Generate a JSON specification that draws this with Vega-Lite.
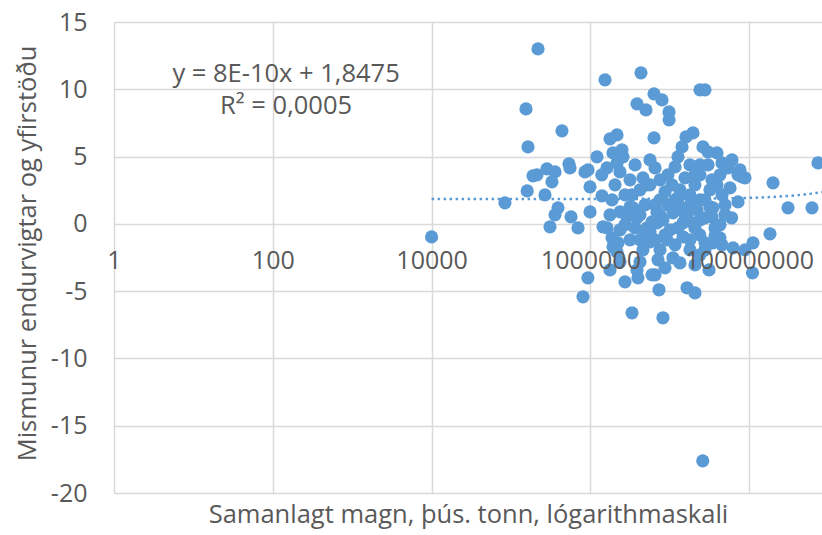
{
  "$schema": "https://vega.github.io/schema/vega-lite/v6.json",
  "width": 708,
  "height": 471,
  "autosize": {"type": "none"},
  "padding": {"left": 114, "top": 22, "right": 0, "bottom": 42},
  "background": "white",
  "view": {"stroke": null},
  "config": {
    "font": "Open Sans",
    "axis": {"labelColor": "#595959", "titleColor": "#595959", "gridColor": "#d9d9d9", "gridWidth": 1.5, "domain": false, "ticks": false, "labelFont": "Open Sans", "titleFont": "Open Sans", "titleFontWeight": "normal"}
  },
  "datasets": {
    "punktar": [
      {"magn": 10000, "mismunur": -0.97}, {"magn": 83900, "mismunur": 1.56}, {"magn": 154500, "mismunur": 8.54}, {"magn": 163700, "mismunur": 5.72},
      {"magn": 218800, "mismunur": 13.0}, {"magn": 438500, "mismunur": 6.91}, {"magn": 1528000, "mismunur": 10.7}, {"magn": 4335000, "mismunur": 11.22},
      {"magn": 23990000, "mismunur": 9.96}, {"magn": 27740000, "mismunur": 9.96}, {"magn": 3864000, "mismunur": 8.92}, {"magn": 5012000, "mismunur": 8.47},
      {"magn": 6324000, "mismunur": 9.66}, {"magn": 7980000, "mismunur": 9.21}, {"magn": 9770000, "mismunur": 8.32}, {"magn": 9800000, "mismunur": 7.73},
      {"magn": 6324000, "mismunur": 6.39}, {"magn": 2163000, "mismunur": 6.61}, {"magn": 1766000, "mismunur": 6.32}, {"magn": 19590000, "mismunur": 6.76},
      {"magn": 16000000, "mismunur": 6.46}, {"magn": 14260000, "mismunur": 5.72}, {"magn": 12680000, "mismunur": 4.98}, {"magn": 11640000, "mismunur": 4.23},
      {"magn": 1211000, "mismunur": 4.98}, {"magn": 2500000, "mismunur": 5.5}, {"magn": 2576000, "mismunur": 4.98}, {"magn": 1927000, "mismunur": 5.27},
      {"magn": 2163000, "mismunur": 4.53}, {"magn": 26180000, "mismunur": 5.72}, {"magn": 30270000, "mismunur": 5.35}, {"magn": 39260000, "mismunur": 5.27},
      {"magn": 45390000, "mismunur": 4.53}, {"magn": 60670000, "mismunur": 4.75}, {"magn": 76560000, "mismunur": 4.01}, {"magn": 81100000, "mismunur": 3.49},
      {"magn": 735000000, "mismunur": 4.53}, {"magn": 199500000, "mismunur": 3.05}, {"magn": 308300000, "mismunur": 1.19}, {"magn": 618000000, "mismunur": 1.19},
      {"magn": 182800000, "mismunur": -0.74}, {"magn": 111700000, "mismunur": -1.41}, {"magn": 72300000, "mismunur": 1.63}, {"magn": 60000000, "mismunur": 0.45},
      {"magn": 26000000, "mismunur": -17.61}, {"magn": 160000, "mismunur": 2.45}, {"magn": 267900, "mismunur": 2.15}, {"magn": 212500, "mismunur": 3.64},
      {"magn": 283800, "mismunur": 4.09}, {"magn": 358100, "mismunur": 3.86}, {"magn": 328100, "mismunur": 3.12}, {"magn": 189200, "mismunur": 3.57},
      {"magn": 537000, "mismunur": 4.46}, {"magn": 553400, "mismunur": 4.16}, {"magn": 855000, "mismunur": 3.86}, {"magn": 933000, "mismunur": 4.01},
      {"magn": 989000, "mismunur": 2.75}, {"magn": 1400000, "mismunur": 2.08}, {"magn": 1390000, "mismunur": 3.64}, {"magn": 1618000, "mismunur": 4.16},
      {"magn": 990000, "mismunur": 0.89}, {"magn": 390800, "mismunur": 1.19}, {"magn": 358100, "mismunur": 0.67}, {"magn": 309700, "mismunur": -0.22},
      {"magn": 570000, "mismunur": 0.52}, {"magn": 698000, "mismunur": -0.3}, {"magn": 2360000, "mismunur": 3.86}, {"magn": 3155000, "mismunur": 3.27},
      {"magn": 4592000, "mismunur": 3.42}, {"magn": 5164000, "mismunur": 2.9}, {"magn": 930000, "mismunur": -4.01}, {"magn": 807000, "mismunur": -5.42},
      {"magn": 1766000, "mismunur": -3.42}, {"magn": 2729000, "mismunur": -4.31}, {"magn": 3972000, "mismunur": -4.01}, {"magn": 3864000, "mismunur": -3.42},
      {"magn": 3342000, "mismunur": -6.61}, {"magn": 6516000, "mismunur": -3.79}, {"magn": 7100000, "mismunur": -2.67}, {"magn": 7310000, "mismunur": -4.9},
      {"magn": 8200000, "mismunur": -6.98}, {"magn": 10960000, "mismunur": -2.53}, {"magn": 13430000, "mismunur": -2.9}, {"magn": 16480000, "mismunur": -4.75},
      {"magn": 20750000, "mismunur": -5.13}, {"magn": 31190000, "mismunur": -3.42}, {"magn": 110000000, "mismunur": -3.64}, {"magn": 24000000, "mismunur": -2.3},
      {"magn": 27740000, "mismunur": -1.93}, {"magn": 62500000, "mismunur": -1.78}, {"magn": 37070000, "mismunur": -0.89}, {"magn": 45390000, "mismunur": -1.56},
      {"magn": 42850000, "mismunur": -1.04}, {"magn": 34990000, "mismunur": -1.41}, {"magn": 5970000, "mismunur": -3.79}, {"magn": 1618000, "mismunur": -0.3},
      {"magn": 1871000, "mismunur": -1.04}, {"magn": 2228000, "mismunur": -1.41}, {"magn": 2160000, "mismunur": -2.08}, {"magn": 1442000, "mismunur": -0.22},
      {"magn": 1927000, "mismunur": -1.71}, {"magn": 2360000, "mismunur": 0.89}, {"magn": 3155000, "mismunur": 1.26}, {"magn": 3443000, "mismunur": 1.19},
      {"magn": 2891000, "mismunur": 0.52}, {"magn": 3864000, "mismunur": 0.45}, {"magn": 4592000, "mismunur": -1.93}, {"magn": 5164000, "mismunur": -0.3},
      {"magn": 5200000, "mismunur": -1.04}, {"magn": 5636000, "mismunur": -1.34}, {"magn": 5636000, "mismunur": -0.59}, {"magn": 6900000, "mismunur": 0.07},
      {"magn": 6900000, "mismunur": 0.89}, {"magn": 9220000, "mismunur": -1.19}, {"magn": 10070000, "mismunur": -0.45}, {"magn": 8200000, "mismunur": 0.3},
      {"magn": 14660000, "mismunur": -0.97}, {"magn": 17950000, "mismunur": -1.19}, {"magn": 23900000, "mismunur": -0.82}, {"magn": 19590000, "mismunur": 0.07},
      {"magn": 14660000, "mismunur": 0.07}, {"magn": 33970000, "mismunur": 0.52}, {"magn": 32060000, "mismunur": 1.26}, {"magn": 10960000, "mismunur": 0.82},
      {"magn": 13430000, "mismunur": 1.26}, {"magn": 8710000, "mismunur": -0.82}, {"magn": 12680000, "mismunur": -0.3}, {"magn": 4875000, "mismunur": -0.59},
      {"magn": 5970000, "mismunur": 0.15}, {"magn": 6516000, "mismunur": 1.41}, {"magn": 20750000, "mismunur": -0.3}, {"magn": 27740000, "mismunur": 0.45},
      {"magn": 34990000, "mismunur": 1.19}, {"magn": 45390000, "mismunur": 2.15}, {"magn": 39260000, "mismunur": 2.9}, {"magn": 30270000, "mismunur": 4.38},
      {"magn": 54100000, "mismunur": 4.16}, {"magn": 72300000, "mismunur": 3.64}, {"magn": 88500000, "mismunur": 3.42}, {"magn": 15530000, "mismunur": 3.42},
      {"magn": 20750000, "mismunur": 2.9}, {"magn": 9490000, "mismunur": 3.64}, {"magn": 6516000, "mismunur": 4.16}, {"magn": 8710000, "mismunur": 2.38},
      {"magn": 12680000, "mismunur": 1.93}, {"magn": 16940000, "mismunur": 0.89}, {"magn": 7530000, "mismunur": 3.27}, {"magn": 4217000, "mismunur": 2.53},
      {"magn": 2729000, "mismunur": 2.15}, {"magn": 2042000, "mismunur": 2.9}, {"magn": 3648000, "mismunur": 4.38}, {"magn": 5636000, "mismunur": 4.75},
      {"magn": 17950000, "mismunur": 4.38}, {"magn": 23990000, "mismunur": 3.64}, {"magn": 32060000, "mismunur": 2.53}, {"magn": 23990000, "mismunur": 1.78},
      {"magn": 17950000, "mismunur": 2.15}, {"magn": 10660000, "mismunur": 2.9}, {"magn": 7530000, "mismunur": 1.78}, {"magn": 4875000, "mismunur": 1.41},
      {"magn": 3342000, "mismunur": 2.15}, {"magn": 1871000, "mismunur": 1.78}, {"magn": 49550000, "mismunur": 1.41}, {"magn": 57300000, "mismunur": 2.67},
      {"magn": 2360000, "mismunur": -0.45}, {"magn": 4217000, "mismunur": -1.19}, {"magn": 3155000, "mismunur": -1.19}, {"magn": 7530000, "mismunur": -1.93},
      {"magn": 11640000, "mismunur": -1.56}, {"magn": 17950000, "mismunur": -1.93}, {"magn": 27740000, "mismunur": -1.41}, {"magn": 4217000, "mismunur": -2.82},
      {"magn": 2360000, "mismunur": -2.82}, {"magn": 8710000, "mismunur": -3.27}, {"magn": 20750000, "mismunur": -3.05}, {"magn": 88500000, "mismunur": -1.93},
      {"magn": 42850000, "mismunur": -0.07}, {"magn": 49550000, "mismunur": 0.67}, {"magn": 22030000, "mismunur": 1.04},
      {"magn": 2729000, "mismunur": -0.07}, {"magn": 3648000, "mismunur": -0.3}, {"magn": 7530000, "mismunur": 0.67}, {"magn": 9490000, "mismunur": 1.41},
      {"magn": 15530000, "mismunur": 0.67}, {"magn": 24100000, "mismunur": 0.3}, {"magn": 37070000, "mismunur": -0.3}, {"magn": 17950000, "mismunur": 1.41},
      {"magn": 27740000, "mismunur": 1.78}, {"magn": 4217000, "mismunur": 0.67}, {"magn": 6516000, "mismunur": -1.19}, {"magn": 11640000, "mismunur": 1.78},
      {"magn": 20750000, "mismunur": 3.64}, {"magn": 13430000, "mismunur": 2.53}, {"magn": 42850000, "mismunur": 3.64}, {"magn": 5636000, "mismunur": 2.9},
      {"magn": 1766000, "mismunur": 0.67}, {"magn": 23990000, "mismunur": 4.38}, {"magn": 33970000, "mismunur": 3.27}
    ],
    "leitni": [
      {"magn": 10000, "mismunur": 1.85}, {"magn": 1000000, "mismunur": 1.85}, {"magn": 10000000, "mismunur": 1.86},
      {"magn": 50000000, "mismunur": 1.89}, {"magn": 100000000, "mismunur": 1.93}, {"magn": 200000000, "mismunur": 2.0},
      {"magn": 300000000, "mismunur": 2.07}, {"magn": 400000000, "mismunur": 2.13}, {"magn": 500000000, "mismunur": 2.19},
      {"magn": 600000000, "mismunur": 2.24}, {"magn": 700000000, "mismunur": 2.3}, {"magn": 826000000, "mismunur": 2.36}
    ],
    "jafna": [
      {"magn": 147, "mismunur": 11.1, "texti": "y = 8E-10x + 1,8475"},
      {"magn": 147, "mismunur": 8.75, "texti": "R² = 0,0005"}
    ]
  },
  "resolve": {"axis": {"x": "independent"}},
  "layer": [
    {
      "data": {"name": "punktar"},
      "mark": {"type": "circle", "size": 175, "opacity": 1, "color": "#5b9bd5", "clip": true},
      "encoding": {
        "x": {
          "field": "magn", "type": "quantitative",
          "scale": {"type": "log", "domain": [1, 826000000], "nice": false},
          "axis": {
            "orient": "bottom",
            "values": [1, 100, 10000, 1000000, 100000000],
            "labels": false,
            "grid": true,
            "zindex": 0,
            "title": "Samanlagt magn, þús. tonn, lógarithmaskali",
            "titleFontSize": 25.5,
            "titleY": 29,
            "titleBaseline": "alphabetic"
          }
        },
        "y": {
          "field": "mismunur", "type": "quantitative",
          "scale": {"domain": [-20, 15], "nice": false, "zero": false},
          "axis": {
            "values": [-20, -15, -10, -5, 0, 5, 10, 15],
            "labelExpr": "'' + datum.value",
            "labelFontSize": 25,
            "labelPadding": 27,
            "grid": true,
            "title": "Mismunur endurvigtar og yfirstöðu",
            "titleFontSize": 25.5,
            "titleX": -79,
            "titleY": 231,
            "titleAngle": -90,
            "titleBaseline": "alphabetic",
            "titleAlign": "center"
          }
        }
      }
    },
    {
      "data": {"name": "leitni"},
      "mark": {"type": "line", "color": "#5b9bd5", "strokeWidth": 2.5, "strokeDash": [2.5, 3.5], "clip": true},
      "encoding": {
        "x": {"field": "magn", "type": "quantitative", "axis": null},
        "y": {"field": "mismunur", "type": "quantitative"}
      }
    },
    {
      "data": {"name": "jafna"},
      "mark": {"type": "text", "font": "Open Sans", "fontSize": 25.5, "color": "#595959", "align": "center", "baseline": "middle"},
      "encoding": {
        "x": {
          "field": "magn", "type": "quantitative",
          "axis": {
            "orient": "bottom",
            "values": [1, 100, 10000, 1000000, 100000000],
            "format": "d",
            "offset": -269,
            "labelFontSize": 25,
            "labelPadding": 24,
            "labelBaseline": "top",
            "labelFlush": false,
            "grid": false,
            "zindex": 1,
            "title": null
          }
        },
        "y": {"field": "mismunur", "type": "quantitative"},
        "text": {"field": "texti"}
      }
    }
  ]
}
